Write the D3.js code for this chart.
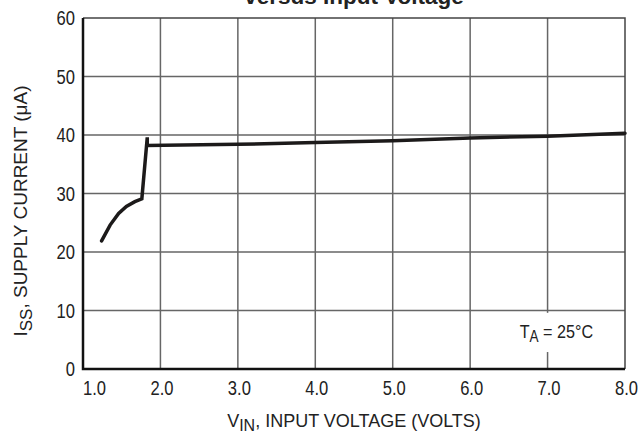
<!DOCTYPE html>
<html>
<head>
<meta charset="utf-8">
<script src="https://cdn.jsdelivr.net/npm/d3@7"></script>
<style>
  body { margin: 0; background: #fff; }
  svg { display: block; }
  text { font-family: "Liberation Sans", Arial, sans-serif; fill: #222; }
</style>
</head>
<body>
<svg id="chart" width="642" height="435"></svg>
<script>
// supply current vs input voltage
const vin = [1.24, 1.35, 1.46, 1.56, 1.67, 1.76, 1.83, 1.83, 3.0, 4.0, 5.0, 6.0, 7.0, 8.0];
const iss = [21.9, 24.6, 26.6, 27.8, 28.6, 29.1, 39.6, 38.2, 38.4, 38.7, 39.0, 39.5, 39.8, 40.3];
const xTicks = [1, 2, 3, 4, 5, 6, 7, 8];
const yTicks = [0, 10, 20, 30, 40, 50, 60];

const margin = {left: 83, right: 17, top: 18, bottom: 66};
const width = 642, height = 435;
const squeeze = 0.85; // the datasheet font is a condensed one

const svg = d3.select("#chart");

const x = d3.scaleLinear().domain([1, 8]).range([margin.left, width - margin.right]);
const y = d3.scaleLinear().domain([0, 60]).range([height - margin.bottom, margin.top]);

// grid
svg.append("g")
  .selectAll("line")
  .data(xTicks.slice(1, -1))
  .join("line")
  .attr("x1", d => x(d)).attr("x2", d => x(d))
  .attr("y1", y(60)).attr("y2", y(0))
  .attr("stroke", "#666").attr("stroke-width", 1.5);

svg.append("g")
  .selectAll("line")
  .data(yTicks.slice(1, -1))
  .join("line")
  .attr("x1", x(1)).attr("x2", x(8))
  .attr("y1", d => y(d)).attr("y2", d => y(d))
  .attr("stroke", "#666").attr("stroke-width", 1.5);

// top + right frame
svg.append("path")
  .attr("d", `M${x(1)},${y(60)}H${x(8)}V${y(0)}`)
  .attr("fill", "none")
  .attr("stroke", "#444").attr("stroke-width", 1.5);

// T_A label with white box covering gridline
const note = svg.append("g");
note.append("rect")
  .attr("x", x(6.65)).attr("y", y(9.6))
  .attr("width", x(7.7) - x(6.65)).attr("height", y(2.9) - y(9.6))
  .attr("fill", "#fff");
const ta = note.append("text")
  .attr("transform", `translate(${x(6.64)},${y(5.3)}) scale(${squeeze},1)`)
  .attr("font-size", 19);
ta.append("tspan").text("T");
ta.append("tspan").attr("baseline-shift", "-4").attr("font-size", 16).text("A");
ta.append("tspan").text(" = 25°C");

// left + bottom axes (heavy)
svg.append("path")
  .attr("d", `M${x(1)},${y(60)}V${y(0)}H${x(8)}`)
  .attr("fill", "none")
  .attr("stroke", "#111").attr("stroke-width", 2.5);

// curve
const line = d3.line().x((d, i) => x(vin[i])).y(d => y(d));
svg.append("path")
  .datum(iss)
  .attr("d", line)
  .attr("fill", "none")
  .attr("stroke", "#1c1a1a")
  .attr("stroke-width", 3.5)
  .attr("stroke-linejoin", "miter")
  .attr("stroke-linecap", "round");

// tick labels
svg.append("g")
  .selectAll("text")
  .data(yTicks)
  .join("text")
  .attr("transform", d => `translate(${x(1) - 8},${y(d) + 7}) scale(${squeeze},1)`)
  .attr("text-anchor", "end")
  .attr("font-size", 19.5)
  .text(d => d);

svg.append("g")
  .selectAll("text")
  .data(xTicks)
  .join("text")
  .attr("transform", (d, i) => `translate(${i === 0 ? x(d) : x(d) + 1.5},${y(0) + 26}) scale(${squeeze},1)`)
  .attr("text-anchor", (d, i) => i === 0 ? "start" : "middle")
  .attr("font-size", 19.5)
  .text(d => d3.format(".1f")(d));

// axis titles
const xt = svg.append("text")
  .attr("x", (x(1) + x(8)) / 2)
  .attr("y", 427)
  .attr("text-anchor", "middle")
  .attr("font-size", 18);
xt.append("tspan").text("V");
xt.append("tspan").attr("baseline-shift", "-4").attr("font-size", 16).text("IN");
xt.append("tspan").text(", INPUT VOLTAGE (VOLTS)");

const yt = svg.append("text")
  .attr("transform", `translate(27,211) rotate(-90)`)
  .attr("text-anchor", "middle")
  .attr("font-size", 19);
yt.append("tspan").text("I");
yt.append("tspan").attr("baseline-shift", "-5").attr("font-size", 17).text("SS");
yt.append("tspan").text(", SUPPLY CURRENT (\u03BCA)");

// chart title (cut at the top of the picture)
svg.append("text")
  .attr("x", (x(1) + x(8)) / 2)
  .attr("y", 3.5)
  .attr("text-anchor", "middle")
  .attr("font-weight", "bold")
  .attr("font-size", 22.5)
  .text("versus Input Voltage");
</script>
</body>
</html>
